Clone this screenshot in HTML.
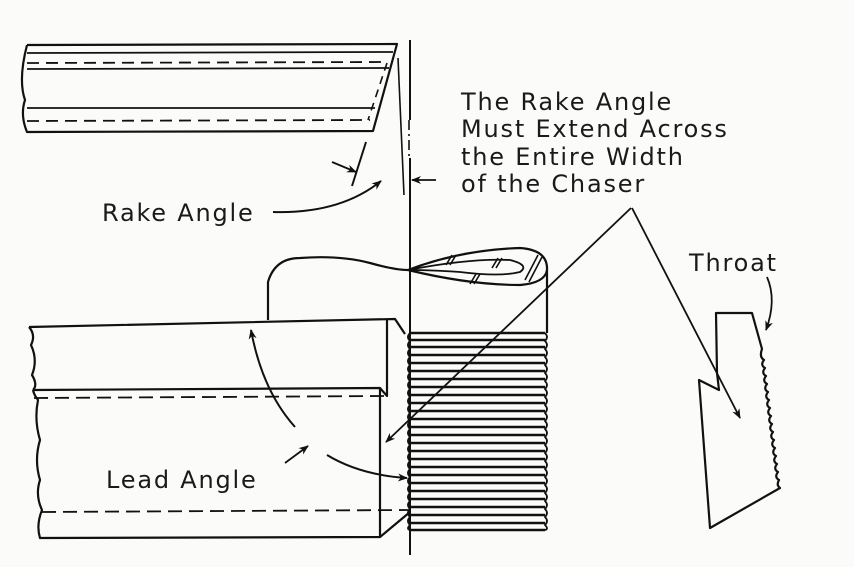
<!DOCTYPE html>
<html><head><meta charset="utf-8"><style>
html,body{margin:0;padding:0;background:#fbfbfa;}
svg{display:block}
text{font-family:"DejaVu Sans","Liberation Sans",sans-serif;fill:#1a1a1a;letter-spacing:1.8px}
</style></head><body>
<svg width="854" height="567" viewBox="0 0 854 567" xmlns="http://www.w3.org/2000/svg">
<defs>
<marker id="ah" markerWidth="10" markerHeight="8" refX="9" refY="4" orient="auto" markerUnits="userSpaceOnUse">
<path d="M0,0 L10,4 L0,8 L3,4 Z" fill="#111"/></marker>
</defs>
<g stroke="#111" fill="none" stroke-width="2.2" stroke-linejoin="round">
<path d="M27,45 L397,44 L373,131 L27,132 Q20,115 25,100 Q18,80 27,45"/>
<path d="M27,53 L393,52" stroke-width="1.8"/>
<path d="M27,69 L389,68" stroke-width="1.8"/>
<path d="M27,108 L375,108" stroke-width="1.8"/>
<path d="M27,63 L388,62" stroke-dasharray="12,7" stroke-width="1.8"/>
<path d="M27,121 L370,120" stroke-dasharray="12,7" stroke-width="1.8"/>
<path d="M387,63 L368,120" stroke-dasharray="8,6" stroke-width="1.6"/>
<path d="M410,40 L410,120 M410,158 L410,555" stroke-width="2"/>
<path d="M409,120 L409,160" stroke-dasharray="10,4,2,4" stroke-width="1.6"/>
<path d="M398,58 L404,195" stroke-width="1.6"/>
<path d="M366,142 L352,186" stroke-width="2"/>
<path d="M332,162 L356,172" marker-end="url(#ah)" stroke-width="1.8"/>
<path d="M273,212 Q340,214 381,181" marker-end="url(#ah)" stroke-width="2"/>
<path d="M436,180 L412,180" marker-end="url(#ah)" stroke-width="1.8"/>
<path d="M268,320 L268,282 Q275,258 300,258 Q340,255 370,263 Q395,270 408,270"/>
<path d="M408,270 Q460,250 520,248 Q548,250 547,270 L547,333"/>
<path d="M408,270 Q470,285 520,285 Q545,283 547,270"/>
<path d="M408,270 Q470,258 510,260 Q530,265 520,272 Q500,277 460,272 Q430,270 408,270" stroke-width="1.8"/>
<path d="M446,265 L452,255 M450,265 L456,255 M470,284 L476,274 M474,284 L480,274 M492,268 L498,258 M496,268 L502,258 M525,280 L538,255 M529,282 L542,257" stroke-width="1.6"/>
<g stroke-width="2.4">
<path d="M410,333 H545 M410,340 H545 M410,347 H545 M410,355 H545 M410,363 H545 M410,371 H545 M410,379 H545 M410,387 H545 M410,395 H545 M410,403 H545 M410,411 H545 M410,419 H545 M410,427 H545 M410,435 H545 M410,443 H545 M410,451 H545 M410,459 H545 M410,467 H545 M410,475 H545 M410,483 H545 M410,491 H545 M410,499 H545 M410,507 H545 M410,515 H545 M410,523 H545 M410,530 H545"/>
</g>
<path d="M410,333 q-4,4 0,8 q-4,4 0,8 q-4,4 0,8 q-4,4 0,8 q-4,4 0,8 q-4,4 0,8 q-4,4 0,8 q-4,4 0,8 q-4,4 0,8 q-4,4 0,8 q-4,4 0,8 q-4,4 0,8 q-4,4 0,8 q-4,4 0,8 q-4,4 0,8 q-4,4 0,8 q-4,4 0,8 q-4,4 0,8 q-4,4 0,8 q-4,4 0,8 q-4,4 0,8 q-4,4 0,8 q-4,4 0,8 q-4,4 0,8 q-4,4 0,5" stroke-width="1.8"/>
<path d="M545,333 q4,4 0,8 q4,4 0,8 q4,4 0,8 q4,4 0,8 q4,4 0,8 q4,4 0,8 q4,4 0,8 q4,4 0,8 q4,4 0,8 q4,4 0,8 q4,4 0,8 q4,4 0,8 q4,4 0,8 q4,4 0,8 q4,4 0,8 q4,4 0,8 q4,4 0,8 q4,4 0,8 q4,4 0,8 q4,4 0,8 q4,4 0,8 q4,4 0,8 q4,4 0,8 q4,4 0,8 q4,4 0,5" stroke-width="1.8"/>
<path d="M29,327 L395,319 L405,334"/>
<path d="M387,320 L387,396 L380,388 L33,390"/>
<path d="M29,327 Q36,335 31,345 Q38,360 32,375 Q38,385 33,390"/>
<path d="M380,388 L380,537 L40,538 Q36,525 42,510 Q35,495 40,480 Q34,460 40,440 Q34,420 38,400 Q34,395 33,390"/>
<path d="M380,537 L410,512"/>
<path d="M34,398 L385,396" stroke-dasharray="14,7" stroke-width="1.8"/>
<path d="M42,512 L410,510" stroke-dasharray="14,7" stroke-width="1.8"/>
<path d="M295,427 Q262,390 251,330" marker-end="url(#ah)" stroke-width="2"/>
<path d="M285,463 L308,446" marker-end="url(#ah)" stroke-width="1.8"/>
<path d="M327,455 Q360,475 407,478" marker-end="url(#ah)" stroke-width="2"/>
<path d="M631,208 L386,442" marker-end="url(#ah)" stroke-width="1.8"/>
<path d="M632,208 L740,418" marker-end="url(#ah)" stroke-width="1.8"/>
<path d="M716,313 L717,373 L719,390 L699,380 L710,528 L780,488 q-4,-3 -1,-8 q-5,-3 -1,-8 q-5,-3 -1,-8 q-5,-3 -1,-8 q-5,-3 -1,-8 q-5,-3 -1,-8 q-5,-3 -1,-8 q-5,-3 -1,-8 q-5,-3 -1,-8 q-5,-3 -1,-8 q-5,-3 -1,-8 q-5,-3 -1,-8 q-5,-3 -1,-8 q-5,-3 -1,-8 q-5,-3 -1,-8 q-5,-3 -1,-8 q-5,-3 -2,-11 L752,313 Z"/>
<path d="M767,277 Q777,300 766,330" marker-end="url(#ah)" stroke-width="1.8"/>
</g>
<g font-size="24">
<text x="461" y="110">The Rake Angle</text>
<text x="461" y="137">Must Extend Across</text>
<text x="461" y="165">the Entire Width</text>
<text x="461" y="192">of the Chaser</text>
<text x="102" y="221">Rake Angle</text>
<text x="106" y="488">Lead Angle</text>
<text x="689" y="271">Throat</text>
</g>
</svg>
</body></html>
